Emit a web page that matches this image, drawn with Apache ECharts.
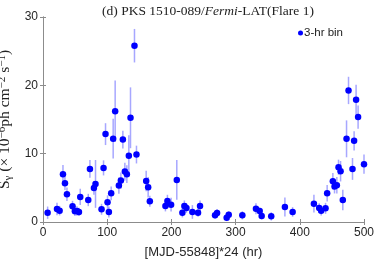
<!DOCTYPE html>
<html>
<head>
<meta charset="utf-8">
<script src="https://cdn.jsdelivr.net/npm/echarts@6/dist/echarts.min.js"></script>
<style>html,body{margin:0;padding:0;background:#fff;}#c{width:374px;height:264px;}</style>
</head>
<body>
<div id="c"></div>
<script>
var timeHr = [7.2,21.8,25.9,31.1,34.2,37.3,46,49.7,52.9,56,58,70.5,73.1,79.3,81.8,91.2,94.3,97.4,100.5,102.6,106.2,109.3,112.4,118.2,121.3,124.4,127.5,130.6,133.7,136.3,142.5,145.6,160.7,163.8,166.4,190.7,193.8,199.5,208.4,217.1,220.2,223.4,232.7,241.5,244.6,268,271.1,286.1,289.3,310.5,331.7,337.5,340.6,355.5,376.8,388.8,422,430.2,433.3,440.1,442.6,451.5,454.1,457.7,460.3,463.5,467,472.8,475.9,482.1,484.6,487.7,490.8,500];
var flux = [1.36,1.9,1.66,7.0,5.67,4.06,2.3,1.57,1.6,1.47,3.67,3.22,7.77,4.99,5.57,1.86,7.92,12.86,2.89,1.47,4.2,12.2,16.2,5.33,6.06,12.07,7.38,6.99,9.68,15.25,25.8,9.87,6.01,5.09,3.03,2.35,3.08,2.54,6.16,1.37,2.35,2.05,1.47,1.37,2.35,0.98,1.32,0.63,1.07,0.98,1.95,1.61,0.88,0.83,2.2,1.47,2.68,2.05,1.66,2.0,4.2,5.96,5.18,5.38,8.02,7.43,3.22,12.17,19.25,7.77,11.88,17.89,15.35,8.46];
var fluxErr = [0.9,0.9,0.7,1.35,1.0,1.0,0.8,0.7,0.7,0.6,1.2,0.9,1.3,1.0,3.5,0.8,1.1,1.6,1.0,0.8,1.0,2.9,4.5,1.2,1.2,1.3,1.3,1.3,3.0,4.45,2.45,1.3,1.5,1.5,0.8,0.8,0.9,1.0,2.9,0.7,0.8,0.7,1.0,0.6,0.8,0.5,0.6,0.5,0.5,0.6,0.8,0.5,0.5,0.6,1.4,0.7,1.3,0.7,0.7,0.8,1.2,1.2,1.0,1.2,1.1,1.5,1.5,2.7,2.0,1.6,1.4,2.2,1.7,1.4];
var xTicks = [0,100,200,300,400,500];
var yTicks = [0,10,20,30];

var pts = timeHr.map(function(t,i){return [t, flux[i]];});
var errs = timeHr.map(function(t,i){return [t, flux[i]-fluxErr[i], flux[i]+fluxErr[i]];});

var chart = echarts.init(document.getElementById('c'), null, {renderer:'canvas'});
var axisCol = '#8c8c8c';
var labCol = '#262626';
var sans = 'Liberation Sans';
var serif = 'Liberation Serif';
chart.setOption({
  animation:false,
  title:{
    text:'{a|(d) PKS 1510-089/}{i|Fermi}{a|-LAT(Flare 1)}',
    left:203, top:-1, textAlign:'center',
    textStyle:{fontWeight:'normal',rich:{
      a:{fontFamily:serif,fontSize:13.5,fontWeight:'normal',color:'#222'},
      i:{fontFamily:serif,fontSize:13.5,fontWeight:'normal',fontStyle:'italic',color:'#222'}
    }}
  },
  legend:{
    data:['3-hr bin'], right:26, top:22, itemWidth:5, itemHeight:5, itemGap:2,
    icon:'circle',
    textStyle:{fontFamily:sans,fontSize:11.5,color:'#222',padding:[0,0,0,-4]}
  },
  grid:{left:43, right:10, top:17, bottom:42, outerBoundsMode:'none', containLabel:false},
  xAxis:[{
    type:'value', min:0, max:500, interval:100,
    name:'[MJD-55848]*24 (hr)', nameLocation:'middle', nameGap:24,
    nameTextStyle:{fontFamily:sans,fontSize:13,color:labCol},
    axisLine:{lineStyle:{color:axisCol}},
    axisTick:{inside:true,length:3,lineStyle:{color:axisCol}},
    axisLabel:{fontFamily:sans,fontSize:12,color:labCol,margin:5,
      formatter:function(v){return xTicks.indexOf(v)>=0?String(v):'';}},
    splitLine:{show:false}
  },{
    type:'value', min:0, max:500, interval:100, position:'top',
    axisLine:{show:true,lineStyle:{color:axisCol}},
    axisTick:{inside:true,length:3,lineStyle:{color:axisCol}},
    axisLabel:{show:false}, splitLine:{show:false}
  }],
  yAxis:[{
    type:'value', min:0, max:30, interval:10,
    name:'{s|S}{sb|γ}{s| (× 10}{sp|−6}{s|ph cm}{sp|−2}{s| s}{sp|−1}{s|)}',
    nameLocation:'middle', nameGap:29, nameRotate:90,
    nameTextStyle:{rich:{
      s:{fontFamily:serif,fontSize:15.5,color:'#222',verticalAlign:'middle'},
      sb:{fontFamily:serif,fontSize:11,color:'#222',verticalAlign:'bottom',padding:[6,0,0,0]},
      sp:{fontFamily:serif,fontSize:11,color:'#222',verticalAlign:'top',padding:[0,0,6,0]}
    }},
    axisLine:{show:true,lineStyle:{color:axisCol}},
    axisTick:{show:true,inside:true,length:3,lineStyle:{color:axisCol}},
    axisLabel:{fontFamily:sans,fontSize:12,color:labCol,margin:5,
      formatter:function(v){return yTicks.indexOf(v)>=0?String(v):'';}},
    splitLine:{show:false}
  },{
    type:'value', min:0, max:30, interval:10, position:'right',
    axisLine:{show:true,lineStyle:{color:axisCol}},
    axisTick:{show:true,inside:true,length:3,lineStyle:{color:axisCol}},
    axisLabel:{show:false}, splitLine:{show:false}
  }],
  series:[{
    type:'custom', name:'err', silent:true, z:2,
    renderItem:function(params, api){
      var p1 = api.coord([api.value(0), api.value(1)]);
      var p2 = api.coord([api.value(0), api.value(2)]);
      return {type:'line', shape:{x1:p1[0],y1:p1[1],x2:p2[0],y2:p2[1]},
        style:{stroke:'rgba(80,80,255,0.5)', lineWidth:1.5}};
    },
    encode:{x:0,y:[1,2]},
    data:errs
  },{
    type:'scatter', name:'3-hr bin', z:3,
    symbol:'circle', symbolSize:6.5,
    itemStyle:{color:'#0000ff', opacity:1},
    data:pts
  }]
});
</script>
</body>
</html>
